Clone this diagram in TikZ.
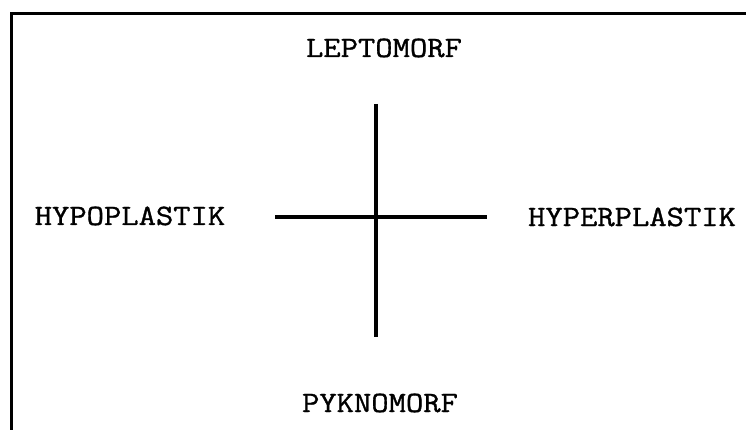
\documentclass[tikz,border=0pt]{standalone}
\usepackage{fontspec}
\newfontfamily\lblfont[FakeStretch=1.14,FakeBold=1.2]{Latin Modern Mono}
\begin{document}
\begin{tikzpicture}[x=1pt,y=-1pt,
  lbl/.style={font=\lblfont\fontsize{29.5}{30}\selectfont, inner sep=0pt, anchor=base},
  bar/.style={line width=3.6pt, black},
  framebar/.style={line width=3pt, black}]
\useasboundingbox (0,0) rectangle (746,430);
\fill[white] (0,0) rectangle (746,430);
% frame (top and left edges visible)
\coordinate (fbl) at (11,440);
\coordinate (ftl) at (11,14);
\coordinate (ftr) at (760,14);
\draw[framebar] (fbl) -- (ftl) -- (ftr);
% labels
\node[lbl] (lepto) at (384,57) {LEPTOMORF};
\node[lbl] (pykno) at (380,412) {PYKNOMORF};
\node[lbl] (hypo) at (130,225) {HYPOPLASTIK};
\node[lbl] (hyper) at (632,226) {HYPERPLASTIK};
% cross
\coordinate (vt) at (376,104);
\coordinate (vb) at (376,337);
\coordinate (hl) at (275,217);
\coordinate (hr) at (487,217);
\draw[bar] (vt) -- (vb);
\draw[bar] (hl) -- (hr);
\end{tikzpicture}
\end{document}
